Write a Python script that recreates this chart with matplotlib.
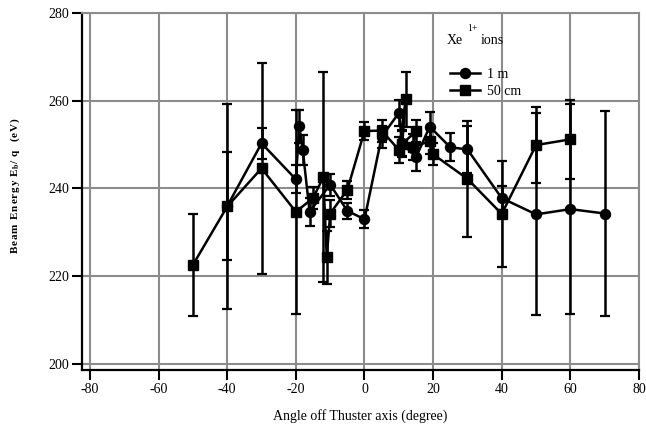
import matplotlib.pyplot as plt

# 1 m series (circles), in plotted order
m1_angle = [-40, -30, -20, -19, -18, -16, -10, -5, 0, 5, 10, 11, 15, 19, 25, 30, 40, 50, 60, 70]
m1_energy = [236.0, 250.3, 242.1, 254.2, 248.8, 234.7, 240.9, 234.9, 233.0, 251.8, 257.2, 250.3,
             247.1, 254.1, 249.4, 248.9, 237.8, 234.1, 235.3, 234.3]
m1_err = [12.4, 3.6, 3.2, 3.8, 3.5, 3.2, 2.5, 1.9, 2.0, 2.5, 3.0, 3.0,
          3.0, 3.4, 3.2, 5.3, 2.8, 23.0, 24.0, 23.3]

# 50 cm series (squares), in plotted order
cm50_angle = [-50, -40, -30, -20, -15, -12, -11, -10, -5, 0, 5, 10, 12, 11, 15, 14, 19, 20, 30, 40, 50, 60]
cm50_energy = [222.6, 235.9, 244.6, 234.7, 237.8, 242.6, 224.3, 234.3, 239.7, 253.1, 253.2, 248.8,
               260.3, 250.2, 253.0, 249.4, 250.8, 247.8, 242.2, 234.2, 249.9, 251.2]
cm50_err = [11.7, 23.4, 24.0, 23.2, 2.5, 24.0, 6.0, 3.0, 2.0, 2.0, 2.5, 3.0,
            6.3, 3.0, 2.5, 3.0, 3.0, 2.5, 13.2, 12.0, 8.7, 9.0]

x_ticks = [-80, -60, -40, -20, 0, 20, 40, 60, 80]
y_ticks = [200, 220, 240, 260, 280]

plt.rcParams['font.family'] = ['Liberation Serif', 'DejaVu Serif']
plt.rcParams['mathtext.fontset'] = 'stix'
plt.rcParams['axes.unicode_minus'] = False
grey = '#8c8c8c'

fig = plt.figure(figsize=(6.46, 4.32), dpi=100)
ax = fig.add_axes([82 / 646, 62 / 432, 557 / 646, 357 / 432])

ax.errorbar(m1_angle, m1_energy, yerr=m1_err, fmt='none', ecolor='k',
            elinewidth=1.8, capsize=3.8, capthick=1.6, zorder=3)
ax.errorbar(cm50_angle, cm50_energy, yerr=cm50_err, fmt='none', ecolor='k',
            elinewidth=1.8, capsize=3.8, capthick=1.6, zorder=3)
ax.plot(m1_angle, m1_energy, '-o', color='k', lw=1.8, ms=7.2, label='1 m', zorder=4)
ax.plot(cm50_angle, cm50_energy, '-s', color='k', lw=1.8, ms=7.8, label='50 cm', zorder=4)

ax.set_xlim(-82.33, 80)
ax.set_ylim(198.63, 280)
ax.set_xticks(x_ticks)
ax.set_yticks(y_ticks)
ax.grid(True, color=grey, lw=1.5)
ax.set_axisbelow(True)
for side in ['top', 'right']:
    ax.spines[side].set_color(grey)
    ax.spines[side].set_linewidth(1.5)
for side in ['left', 'bottom']:
    ax.spines[side].set_color('k')
    ax.spines[side].set_linewidth(1.6)
ax.tick_params(direction='out', length=7.5, width=1.5, labelsize=10, pad=2, colors='k')

ax.set_xlabel('Angle off Thuster axis (degree)', fontsize=10, labelpad=9)
ylab = '\u200a'.join('Beam Energy ') + 'E$_\\mathbf{b}$' + '\u200a'.join('/ q  (eV)')
fig.text(15 / 646, 1 - 186 / 432, ylab, rotation=90, fontsize=8, fontweight='bold',
         ha='center', va='center')

ax.text(24.0, 273.0, 'Xe', fontsize=10)
ax.text(29.9, 276.0, '1+', fontsize=7)
ax.text(33.9, 273.0, 'ions', fontsize=10)
ax.legend(loc='upper left', bbox_to_anchor=(24.9, 267.5), bbox_transform=ax.transData,
          frameon=False, fontsize=10, borderpad=0, borderaxespad=0,
          handlelength=2.16, handletextpad=0.5, labelspacing=0.3)

fig.savefig('out.png', dpi=100)
